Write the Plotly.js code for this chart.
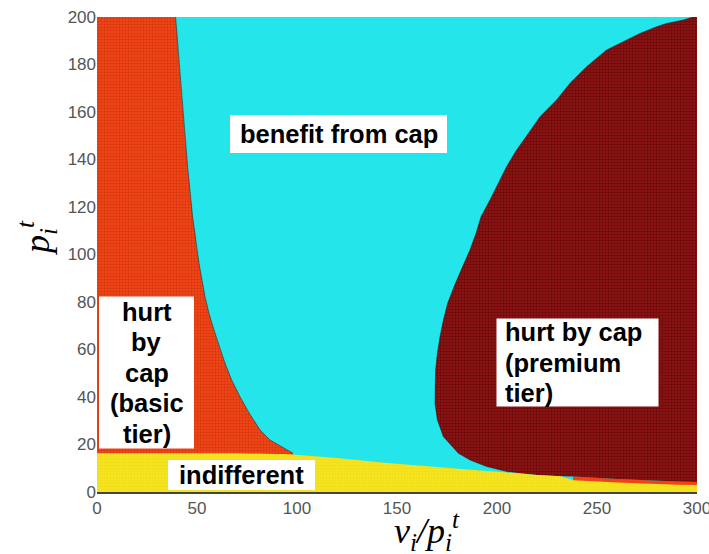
<!DOCTYPE html>
<html>
<head>
<meta charset="utf-8">
<script src="https://cdn.plot.ly/plotly-3.0.1.min.js"></script>
<style>
  html, body { margin: 0; padding: 0; background: #fff; }
  #chart { width: 709px; height: 554px; }
</style>
</head>
<body>
<div id="chart"></div>
<script>
// region boundaries (x = v_i/p_i^t, y = p_i^t)

// top of the "indifferent" band
const yellowTopX = [0, 70, 96, 120, 145, 170, 190, 205, 220, 232, 238, 260, 290, 300];
const yellowTopY = [16.3, 16.3, 15.9, 14.3, 12.2, 10.5, 9.2, 8.2, 7.2, 6.6, 5.0, 4.0, 3.1, 3.0];

// basic tier / benefit boundary, from the top down
const basicBoundY = [200, 179.1, 158, 137, 115.9, 110.3, 101.9, 96.3, 82.2, 75.2, 68.2, 61.2,
                     54.2, 47.2, 40.1, 33.1, 26.1, 21.9, 19.1, 16.3];
const basicBoundX = [39.3, 41.2, 43.2, 45.3, 47.8, 48.8, 50.0, 51.0, 54, 56, 58.5, 61.2,
                     64, 67.3, 71.5, 76.2, 81.5, 86.5, 92.3, 98];

// premium tier / benefit boundary, from the top down
const premBoundY = [200, 198.7, 197.3, 195.9, 193.1, 186.1, 179.1, 172.1, 165.1, 158, 151, 144,
                    137, 130, 123, 115.9, 108.9, 101.9, 93.5, 86.4, 79.4, 72.4, 65.4, 58.4,
                    51.4, 44.3, 37.3, 30.3, 23.3, 16.3, 13.5, 10.7, 8.4];
const premBoundX = [298, 293.2, 284.8, 279.8, 271.5, 254.8, 244.8, 236.5, 229.8, 221.5, 215.7, 209.8,
                    204.8, 200.7, 196.5, 192, 189.5, 186.5, 182, 178.5, 175.3, 173.2, 171.5, 170.2,
                    169.3, 169, 169, 170.2, 173.2, 180.7, 186.5, 194.8, 206];

// lower edge of the premium region (thin basic-tier strip below it on the right)
const premBottomX = [206, 220, 232, 238, 260, 290, 300];
const premBottomY = [8.2, 7.2, 6.6, 6.5, 5.5, 4.4, 4.2];

const xTicks = [0, 50, 100, 150, 200, 250, 300];
const yTicks = [0, 20, 40, 60, 80, 100, 120, 140, 160, 180, 200];

// label boxes: text lines, centre in data units, box size in px
const boxes = [
    { lines: ['benefit from cap'], x: 120.75, y: 150.7, w: 217, h: 38, align: 'center' },
    { lines: ['hurt', 'by', 'cap', '(basic', 'tier)'], x: 24.75, y: 50.3, w: 95, h: 152, align: 'center' },
    { lines: ['hurt by cap', '(premium', 'tier)'], x: 240.25, y: 54.5, w: 162, h: 88, align: 'left' },
    { lines: ['indifferent'], x: 72.25, y: 7.2, w: 147, h: 30, align: 'center' }
];

const colors = {
    basic: '#f04416',
    benefit: '#24e5e9',
    premium: '#8a1212',
    indifferent: '#f7e420'
};

const last = a => a[a.length - 1];

// basic tier: left edge, then down its boundary, closed along the bottom
const basicTrace = {
    x: [0, 0].concat(basicBoundX, [last(basicBoundX)]),
    y: [0, basicBoundY[0]].concat(basicBoundY, [0]),
    type: 'scatter', mode: 'none', fill: 'toself',
    fillcolor: colors.basic,
    fillpattern: { shape: '+', size: 3, solidity: 0.2, fgcolor: '#c0300c', bgcolor: colors.basic },
    hoverinfo: 'skip', showlegend: false
};

// thin basic-tier strip under the premium region
const stripX = premBottomX.slice(3);
const stripY = premBottomY.slice(3);
const stripTrace = {
    x: [stripX[0]].concat(stripX, [last(stripX)]),
    y: [0].concat(stripY, [0]),
    type: 'scatter', mode: 'none', fill: 'toself',
    fillcolor: colors.basic,
    hoverinfo: 'skip', showlegend: false
};

// premium tier: curved boundary, bottom edge to the right, up the right side
const premTrace = {
    x: premBoundX.concat(premBottomX.slice(1), [last(premBottomX), last(premBottomX)]),
    y: premBoundY.concat(premBottomY.slice(1), [premBoundY[0]]),
    type: 'scatter', mode: 'none', fill: 'toself',
    fillcolor: colors.premium,
    fillpattern: { shape: '+', size: 3, solidity: 0.2, fgcolor: '#4a0606', bgcolor: colors.premium },
    hoverinfo: 'skip', showlegend: false
};

// indifferent band
const yellowTrace = {
    x: [0].concat(yellowTopX, [last(yellowTopX)]),
    y: [0].concat(yellowTopY, [0]),
    type: 'scatter', mode: 'none', fill: 'toself',
    fillcolor: colors.indifferent,
    fillpattern: { shape: '+', size: 3, solidity: 0.12, fgcolor: '#e2cf10', bgcolor: colors.indifferent },
    hoverinfo: 'skip', showlegend: false
};

// dark edges along the curved boundaries
const edgeStyle = { color: 'rgba(40,20,20,0.5)', width: 1 };
const basicEdge = {
    x: basicBoundX, y: basicBoundY, type: 'scatter', mode: 'lines',
    line: edgeStyle, hoverinfo: 'skip', showlegend: false
};
const premEdge = {
    x: premBoundX, y: premBoundY, type: 'scatter', mode: 'lines',
    line: edgeStyle, hoverinfo: 'skip', showlegend: false
};

// white boxes as pixel-sized shapes, lines of text as annotations
const labelFont = { family: 'Liberation Sans, Arial, sans-serif', size: 25.5, color: '#000' };
const lineGap = 30.5;
const shapes = [];
const annotations = [];
boxes.forEach(b => {
    shapes.push({
        type: 'rect', layer: 'above',
        xref: 'x', yref: 'y', xsizemode: 'pixel', ysizemode: 'pixel',
        xanchor: b.x, yanchor: b.y,
        x0: -b.w / 2, x1: b.w / 2, y0: -b.h / 2, y1: b.h / 2,
        fillcolor: '#ffffff', line: { width: 0 }
    });
    const n = b.lines.length;
    b.lines.forEach((t, k) => {
        annotations.push({
            x: b.x, y: b.y, xref: 'x', yref: 'y', showarrow: false,
            text: '<b>' + t + '</b>', font: labelFont,
            xanchor: b.align === 'left' ? 'left' : 'center',
            xshift: b.align === 'left' ? -b.w / 2 + 6 : 0,
            yshift: ((n - 1) / 2 - k) * lineGap
        });
    });
});

// axis titles placed as in the picture
const titleFont = { family: 'Liberation Serif, Times New Roman, serif', size: 36, color: '#000' };
annotations.push({
    xref: 'paper', yref: 'paper', x: 0.55, y: 0, yshift: -39,
    xanchor: 'center', yanchor: 'middle', showarrow: false,
    text: '<i>v<sub>i</sub>/p<sub>i</sub><sup>t</sup></i>', font: titleFont
});
annotations.push({
    xref: 'paper', yref: 'paper', x: -0.1, y: 0.535,
    xanchor: 'center', yanchor: 'middle', showarrow: false, textangle: -90,
    text: '<i>p<sub>i</sub><sup>t</sup></i>', font: titleFont
});

const layout = {
    width: 709,
    height: 554,
    margin: { l: 97, r: 12, t: 17, b: 62 },
    paper_bgcolor: '#ffffff',
    plot_bgcolor: colors.benefit,
    font: { family: 'Liberation Sans, Arial, sans-serif', color: '#555' },
    xaxis: {
        range: [0, 300],
        tickvals: xTicks,
        ticks: '',
        showgrid: false,
        zeroline: false,
        showline: true,
        linecolor: '#444',
        linewidth: 2,
        ticklabeloverflow: 'allow',
        tickfont: { size: 17, color: '#555' }
    },
    yaxis: {
        range: [0, 200],
        tickvals: yTicks,
        ticks: '',
        showgrid: false,
        zeroline: false,
        showline: false,
        ticklabeloverflow: 'allow',
        tickfont: { size: 17, color: '#555' }
    },
    shapes: shapes,
    annotations: annotations
};

Plotly.newPlot('chart',
    [basicTrace, stripTrace, premTrace, yellowTrace, basicEdge, premEdge],
    layout,
    { displayModeBar: false, responsive: false }
);
</script>
</body>
</html>
